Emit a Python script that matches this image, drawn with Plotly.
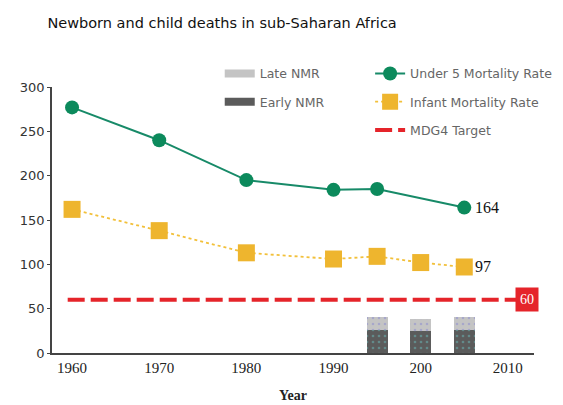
import plotly.graph_objects as go

# data
u5_years = [1960, 1970, 1980, 1990, 1995, 2005]
u5_rate = [277, 240, 195, 184, 185, 164]

imr_years = [1960, 1970, 1980, 1990, 1995, 2000, 2005]
imr_rate = [162, 138, 113, 106, 109, 102, 97]

nmr_years = [1995, 2000, 2005]
early_nmr = [26, 25, 26]
late_nmr = [15, 13, 15]

target_years = [1959.5, 2011]
target_value = [60, 60]

tick_vals = [1960, 1970, 1980, 1990, 2000, 2010]
tick_text = ["1960", "1970", "1980", "1990", "200", "2010"]

GREEN = "#0c8a5c"
GOLD = "#eeb52e"
RED = "#e5242a"
DARK_BAR = "#5b5b5b"
LIGHT_BAR = "#c4c4c4"
SANS = "'DejaVu Sans', sans-serif"
SERIF = "'Liberation Serif', serif"

fig = go.Figure()

# stacked bars for neonatal mortality (legend entries drawn separately below)
fig.add_trace(go.Bar(
    x=nmr_years, y=early_nmr, name="Early NMR", width=2.4, showlegend=False,
    marker=dict(color=DARK_BAR, line=dict(width=0),
                pattern=dict(shape=".", fgcolor="#69b9b9", size=6, solidity=0.15)),
))
fig.add_trace(go.Bar(
    x=nmr_years, y=late_nmr, name="Late NMR", width=2.4, showlegend=False,
    marker=dict(color=LIGHT_BAR, line=dict(width=0),
                pattern=dict(shape=".", fgcolor="#8a8ad0", size=6, solidity=0.15)),
))

# wide swatches for the bar legend
fig.add_trace(go.Scatter(
    x=[None], y=[None], name="Late NMR", mode="lines",
    line=dict(color=LIGHT_BAR, width=8),
    legend="legend", legendgroup="late",
))
fig.add_trace(go.Scatter(
    x=[None], y=[None], name="Early NMR", mode="lines",
    line=dict(color=DARK_BAR, width=8),
    legend="legend", legendgroup="early",
))

fig.add_trace(go.Scatter(
    x=u5_years, y=u5_rate, name="Under 5 Mortality Rate", mode="lines+markers",
    line=dict(color="#178a68", width=2),
    marker=dict(symbol="circle", size=14, color=GREEN),
    legend="legend2", legendgroup="u5",
))
fig.add_trace(go.Scatter(
    x=imr_years, y=imr_rate, name="Infant Mortality Rate", mode="lines+markers",
    line=dict(color="#f2c03a", width=1.8, dash="dot"),
    marker=dict(symbol="square", size=17, color=GOLD),
    legend="legend2", legendgroup="imr",
))
fig.add_trace(go.Scatter(
    x=target_years, y=target_value, name="MDG4 Target", mode="lines",
    line=dict(color=RED, width=4, dash="17px,6px"),
    legend="legend2", legendgroup="mdg",
))

# end labels
fig.add_annotation(x=u5_years[-1], y=u5_rate[-1], text=str(u5_rate[-1]),
                   xanchor="left", xshift=9, showarrow=False,
                   font=dict(family=SERIF, size=16, color="#111"))
fig.add_annotation(x=imr_years[-1], y=imr_rate[-1], text=str(imr_rate[-1]),
                   xanchor="left", xshift=9, showarrow=False,
                   font=dict(family=SERIF, size=16, color="#111"))
fig.add_annotation(x=2012.2, y=target_value[-1], text=str(target_value[-1]),
                   showarrow=False, bgcolor=RED, borderpad=4,
                   font=dict(family=SERIF, size=14, color="white"))

fig.update_layout(
    width=563, height=405,
    margin=dict(l=43, r=37, t=79, b=55),
    plot_bgcolor="white", paper_bgcolor="white",
    barmode="stack",
    title=dict(text="Newborn and child deaths in sub-Saharan Africa",
               x=0.07, xanchor="left", y=0.963, yanchor="middle",
               font=dict(family=SANS, size=14.5, color="#111")),
    legend=dict(x=0.348, y=1.106, xanchor="left", yanchor="top",
                tracegroupgap=9, bgcolor="rgba(0,0,0,0)",
                font=dict(family=SANS, size=12.5, color="#666")),
    legend2=dict(x=0.66, y=1.106, xanchor="left", yanchor="top",
                 tracegroupgap=9, bgcolor="rgba(0,0,0,0)",
                 font=dict(family=SANS, size=12.5, color="#666")),
    xaxis=dict(range=[1957.7, 2013], tickvals=tick_vals, ticktext=tick_text,
               showgrid=False, zeroline=False, showline=True,
               linecolor="#444", linewidth=1.5, ticks="",
               tickfont=dict(family=SERIF, size=15, color="#222"),
               title=dict(text="<b>Year</b>", standoff=15,
                          font=dict(family=SERIF, size=14, color="#222"))),
    yaxis=dict(range=[0, 300], dtick=50, showgrid=False, zeroline=False,
               showline=True, linecolor="#444", linewidth=1.5,
               ticks="outside", ticklen=3, tickcolor="#444",
               tickfont=dict(family=SANS, size=13, color="#333")),
)

fig.write_html("out.html")
